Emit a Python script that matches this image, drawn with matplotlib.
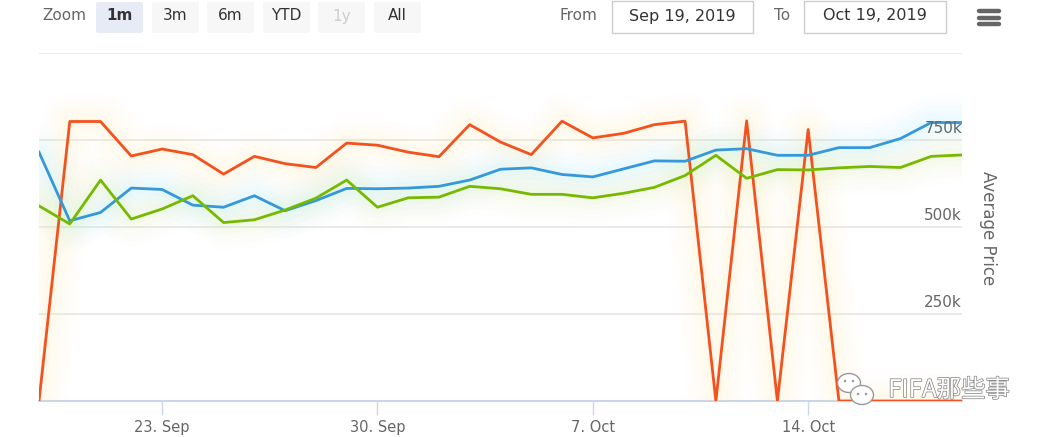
import numpy as np
import matplotlib
matplotlib.use('Agg')
import matplotlib.pyplot as plt
import matplotlib.dates as mdates
from matplotlib.patches import FancyBboxPatch, Rectangle, Ellipse
import matplotlib.patheffects as pe

plt.rcParams['font.family'] = ['DejaVu Sans', 'Noto Sans CJK SC']

# daily data, Sep 19 -> Oct 19 2019
dates = np.arange(np.datetime64('2019-09-19'), np.datetime64('2019-10-20'))
orange = [0, 802, 802, 703, 723, 707, 651, 702, 681, 670,
          740, 734, 714, 701, 793, 743, 707, 803, 755, 768,
          793, 803, 0, 804, 0, 779, 0, 0, 0, 0, 0]
blue = [714, 517, 541, 611, 607, 562, 556, 589, 546, 575,
        610, 609, 611, 616, 634, 665, 669, 650, 643, 666,
        689, 688, 720, 724, 705, 705, 727, 727, 753, 799, 799]
green = [560, 508, 634, 522, 551, 589, 512, 520, 548, 582,
         634, 556, 583, 585, 616, 609, 593, 593, 583, 596,
         613, 647, 705, 639, 664, 663, 669, 673, 670, 702, 706]
yticks = [250, 500, 750, 1000]
xtick_dates = ['2019-09-23', '2019-09-30', '2019-10-07', '2019-10-14']
xtick_labels = ['23. Sep', '30. Sep', '7. Oct', '14. Oct']
buttons = ['1m', '3m', '6m', 'YTD', '1y', 'All']

W, H = 1046, 437
fig = plt.figure(figsize=(W / 100, H / 100), dpi=100)


def fx(x):
    return x / W


def fy(y):
    return 1 - y / H


ax = fig.add_axes([fx(39), fy(401), (962 - 39) / W, (401 - 52.5) / H])
x = mdates.date2num(dates.astype('datetime64[s]').astype(object))

series = [(orange, '#f4511e', '#ffe9a0'),
          (blue, '#3498db', '#a0f2ff'),
          (green, '#76b900', '#dcf7a0')]

# soft glow first, then lines
for vals, c, glow in series:
    v = np.array(vals) * 1000
    for lw, a in [(40, 0.025), (32, 0.03), (24, 0.04), (16, 0.05), (9, 0.06)]:
        ax.plot(x, v, color=glow, lw=lw, alpha=a, solid_joinstyle='round',
                solid_capstyle='round', zorder=2)
for vals, c, glow in series:
    v = np.array(vals) * 1000
    ax.plot(x, v, color=c, lw=2.0, solid_joinstyle='round', zorder=3)

ax.set_xlim(x[0], x[-1])
ax.set_ylim(0, 1000000)

for s in ['top', 'right', 'left']:
    ax.spines[s].set_visible(False)
ax.spines['bottom'].set_color('#ccd6eb')
ax.spines['bottom'].set_linewidth(1.5)
ax.spines['bottom'].set_zorder(1)

for t in yticks:
    ax.axhline(t * 1000, color='#e6e6e6', lw=1.2, zorder=1)
ax.set_yticks([])
for t in yticks[:-1]:
    ax.annotate('%dk' % t, xy=(1, t * 1000), xycoords=ax.get_yaxis_transform(),
                xytext=(0, 2.5), textcoords='offset points', ha='right', va='bottom',
                fontsize=11, color='#666666')

xt = mdates.date2num([np.datetime64(d).astype('datetime64[s]').astype(object) for d in xtick_dates])
ax.set_xticks(xt)
ax.set_xticklabels(xtick_labels)
ax.tick_params(axis='x', length=10, width=1, color='#ccd6eb', labelsize=10.5,
               labelcolor='#666666', pad=4)

fig.text(fx(988), fy(228), 'Average Price', rotation=270, ha='center', va='center',
         fontsize=12, color='#666666')

# range selector toolbar
fig.text(fx(64), fy(16), 'Zoom', ha='center', va='center', fontsize=11, color='#666666')
bx = [96, 152, 207, 263, 318, 374]
for i, (b, lab) in enumerate(zip(bx, buttons)):
    fc = '#e6ebf5' if i == 0 else '#f7f7f7'
    fig.patches.append(FancyBboxPatch((fx(b), fy(33)), 47 / W, 31 / H,
                                      boxstyle='round,pad=0,rounding_size=0.003',
                                      transform=fig.transFigure, fc=fc, ec='none'))
    col = '#cccccc' if lab == '1y' else '#333333'
    fw = 'bold' if i == 0 else 'normal'
    fig.text(fx(b + 23.5), fy(16), lab, ha='center', va='center', fontsize=11,
             color=col, fontweight=fw)

fig.text(fx(578), fy(16), 'From', ha='center', va='center', fontsize=11, color='#666666')
fig.text(fx(782), fy(16), 'To', ha='center', va='center', fontsize=11, color='#666666')
for x0, x1, lab in [(612, 753, 'Sep 19, 2019'), (804, 946, 'Oct 19, 2019')]:
    fig.patches.append(Rectangle((fx(x0), fy(33)), (x1 - x0) / W, 32 / H,
                                 transform=fig.transFigure, fc='white', ec='#cccccc', lw=1))
    fig.text(fx((x0 + x1) / 2), fy(16), lab, ha='center', va='center', fontsize=11.5,
             color='#333333')

# menu icon
for yy in [11, 17.5, 24]:
    fig.lines.append(plt.Line2D([fx(979), fx(999)], [fy(yy), fy(yy)], color='#666666',
                                lw=3.2, solid_capstyle='round', transform=fig.transFigure))

# watermark
fig.text(fx(949), fy(390), 'FIFA那些事', ha='center', va='center', fontsize=17.5,
         color='white', family=['Noto Sans CJK SC', 'DejaVu Sans'],
         path_effects=[pe.withStroke(linewidth=1.1, foreground='#8a8a8a')])
for cx, cy, w, h in [(849, 383, 23, 19), (862, 395, 23, 19)]:
    fig.patches.append(Ellipse((fx(cx), fy(cy)), w / W, h / H, transform=fig.transFigure,
                               fc='white', ec='#999999', lw=1))
for cx, cy in [(845, 381), (853, 381), (858, 394), (866, 394)]:
    fig.patches.append(Ellipse((fx(cx), fy(cy)), 2.5 / W, 2.5 / H, transform=fig.transFigure,
                               fc='#999999', ec='none'))

fig.savefig('out.png', dpi=100)
